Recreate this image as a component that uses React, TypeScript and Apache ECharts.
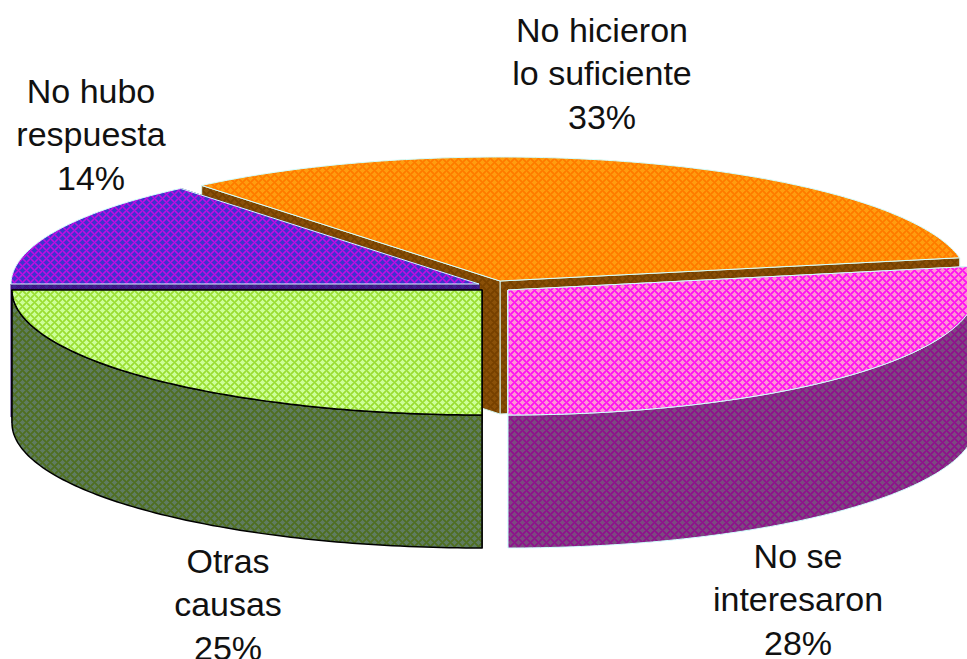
import React, { useEffect, useRef } from "react";
import * as echarts from "echarts";

// Pie order, clockwise from straight down
const categories = ["Otras causas", "No hubo respuesta", "No hicieron lo suficiente", "No se interesaron"];
const values = [25, 14, 33, 28];
const labelLines = [["Otras", "causas"], ["No hubo", "respuesta"], ["No hicieron", "lo suficiente"], ["No se", "interesaron"]];
// Back-to-front painting order
const paintOrder = [2, 1, 0, 3];

const W = 967, H = 659;
const RX = 468, RY = 124, DEPTH = 133;
const START_DEG = 270; // straight down on the ellipse
const centers = [[482, 290], [479, 284], [500, 281], [508, 290]];
const labelAnchors = [[228, 604], [91, 134], [602, 73], [798, 599]];
const radiusBump = [[2, 1], [0, 0], [0, 0], [0, 1]];

type Tile = [string, string, string];
const topTiles: Tile[] = [
  ["#CCFF99", "#A8E64C", "#99DD33"],
  ["#3F33CC", "#9018DC", "#C010E0"],
  ["#FF9C10", "#FF8400", "#FF7800"],
  ["#FF94D4", "#FF30EA", "#FF10F0"],
];
const sideTiles: Tile[] = [
  ["#5F7C60", "#527030", "#4F7020"],
  ["#3C2490", "#3A1480", "#4A1088"],
  ["#8A5008", "#7A4400", "#764000"],
  ["#7C4A80", "#88208A", "#90108A"],
];
const edgeColors = ["#000000", "#D4FFFF", "#D4FFFF", "#D4FFFF"];
const sideEdgeColors = ["#000000", "#3A1480", "#D4F4EC", "#D4FFFF"];

function makeTile(t: Tile) {
  const c = document.createElement("canvas");
  c.width = 8; c.height = 8;
  const g = c.getContext("2d")!;
  const lattice = [[2, 2], [6, 6], [-2, 6], [6, -2], [10, 2], [2, 10], [-2, -2], [10, 10]];
  for (let y = 0; y < 8; y++) for (let x = 0; x < 8; x++) {
    let d = 99;
    for (const [a, b] of lattice) d = Math.min(d, Math.abs(x - a) + Math.abs(y - b));
    g.fillStyle = d <= 2 ? t[0] : d === 3 ? t[1] : t[2];
    g.fillRect(x, y, 1, 1);
  }
  return { image: c, repeat: "repeat", imageWidth: 8, imageHeight: 8 } as any;
}

const total = values.reduce((a, b) => a + b, 0);

function sliceAngles(i: number) {
  let before = 0;
  for (let k = 0; k < i; k++) before += values[k];
  const a0 = START_DEG - (before / total) * 360;
  const a1 = a0 - (values[i] / total) * 360;
  return [a0, a1];
}

function pt(i: number, deg: number, dy = 0) {
  const r = (deg * Math.PI) / 180;
  const [cx, cy] = centers[i];
  return [cx + (RX + radiusBump[i][0]) * Math.cos(r), cy - (RY + radiusBump[i][1]) * Math.sin(r) + dy];
}

function arc(i: number, from: number, to: number, dy = 0) {
  const n = Math.max(2, Math.ceil(Math.abs(to - from)));
  const out: number[][] = [];
  for (let k = 0; k <= n; k++) out.push(pt(i, from + ((to - from) * k) / n, dy));
  return out;
}

export default function App() {
  const ref = useRef<HTMLDivElement>(null);
  useEffect(() => {
    const chart = echarts.init(ref.current!, null, { renderer: "svg", width: W, height: H });
    const topFill = topTiles.map(makeTile);
    const sideFill = sideTiles.map(makeTile);
    const renderItem = (_p: any, api: any) => {
      const i = api.value(1) as number;
      const [a0, a1] = sliceAngles(i);
      const [cx, cy] = centers[i];
      const apex = [cx, cy];
      const apexD = [cx, cy + DEPTH];
      const children: any[] = [];
      const poly = (points: number[][], style: any) => children.push({ type: "polygon", shape: { points }, style });
      const sideStyle = { fill: sideFill[i], stroke: sideEdgeColors[i], lineWidth: 1 };
      // cut faces
      for (const a of [a1, a0]) {
        const p = pt(i, a);
        poly([apex, p, pt(i, a, DEPTH), apexD], sideStyle);
      }
      // front-facing outer wall: the part of the arc below the ellipse's centre
      for (const [lo, hi] of [[-180, 0], [180, 360]]) {
        const wallFrom = Math.min(a0, hi);
        const wallTo = Math.max(a1, lo);
        if (wallFrom > wallTo) {
          const up = arc(i, wallFrom, wallTo);
          const down = arc(i, wallFrom, wallTo, DEPTH).reverse();
          poly([...up, ...down], { fill: sideFill[i], stroke: sideEdgeColors[i], lineWidth: i === 0 ? 1.5 : 1 });
        }
      }
      // top face
      poly([apex, ...arc(i, a0, a1)], { fill: topFill[i], stroke: edgeColors[i], lineWidth: i === 0 ? 1.5 : 1 });
      return { type: "group", children };
    };
    const labelItem = (_p: any, api: any) => {
      const i = api.value(1) as number;
      const [x, y] = labelAnchors[i];
      return {
        type: "text",
        style: {
          text: [...labelLines[i], `${api.value(0)}%`].join("\n"),
          x, y,
          align: "center",
          verticalAlign: "middle",
          fill: "#111111",
          font: '34px "Liberation Sans", Arial, sans-serif',
          lineHeight: 43.5,
        },
      };
    };
    const data = paintOrder.map((i) => ({ name: categories[i], value: [values[i], i] }));
    chart.setOption({
      animation: false,
      backgroundColor: "#FFFFFF",
      series: [
        { type: "custom", coordinateSystem: "none", renderItem, data, silent: true, z: 2, clip: false },
        { type: "custom", coordinateSystem: "none", renderItem: labelItem, data, silent: true, z: 3 },
      ],
    });
    return () => chart.dispose();
  }, []);
  return <div ref={ref} style={{ position: "absolute", left: 0, top: 0, width: W, height: H }} />;
}
